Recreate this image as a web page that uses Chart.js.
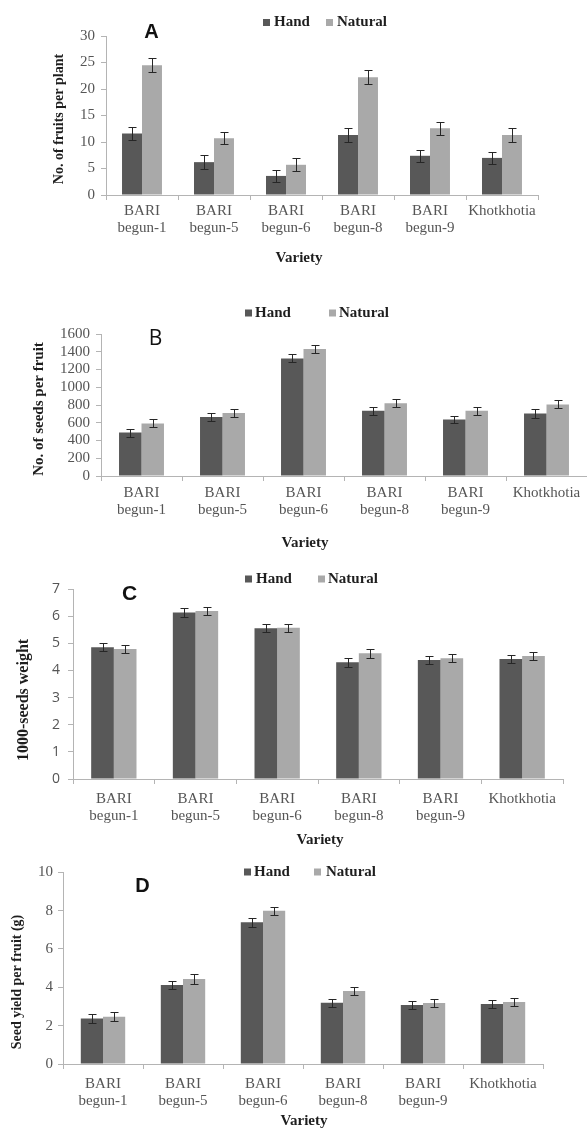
<!DOCTYPE html>
<html>
<head>
<meta charset="utf-8">
<script src="https://cdn.jsdelivr.net/npm/chart.js@4.4.1/dist/chart.umd.min.js"></script>
<style>
html,body{margin:0;padding:0;background:#fff;}
#wrap{position:relative;width:587px;height:1128px;overflow:hidden;background:#fff;}
canvas{position:absolute;left:0;}
</style>
</head>
<body>
<div id="wrap">
<canvas id="cA" width="587" height="280"></canvas>
<canvas id="cB" width="587" height="290"></canvas>
<canvas id="cC" width="587" height="285"></canvas>
<canvas id="cD" width="587" height="273"></canvas>
</div>
<script>
// ---------- DATA ----------
const categories = [['BARI','begun-1'],['BARI','begun-5'],['BARI','begun-6'],['BARI','begun-8'],['BARI','begun-9'],'Khotkhotia'];
const seriesNames = ['Hand', 'Natural'];
const xTitle = 'Variety';

// A: No. of fruits per plant
const fruitsHand       = [11.6, 6.2, 3.6, 11.3, 7.4, 7.0];
const fruitsHandErr    = [1.2, 1.3, 1.2, 1.3, 1.1, 1.1];
const fruitsNatural    = [24.5, 10.7, 5.7, 22.2, 12.6, 11.3];
const fruitsNaturalErr = [1.3, 1.1, 1.2, 1.3, 1.2, 1.3];
const fruitsTicks      = [0, 5, 10, 15, 20, 25, 30];

// B: No. of seeds per fruit
const seedsHand        = [490, 666, 1325, 734, 637, 704];
const seedsHandErr     = [45, 45, 46, 45, 41, 46];
const seedsNatural     = [592, 711, 1431, 821, 734, 806];
const seedsNaturalErr  = [45, 42, 45, 45, 45, 45];
const seedsTicks       = [0, 200, 400, 600, 800, 1000, 1200, 1400, 1600];

// C: 1000-seeds weight
const weightHand       = [4.85, 6.13, 5.55, 4.30, 4.38, 4.42];
const weightHandErr    = [0.15, 0.16, 0.15, 0.17, 0.15, 0.15];
const weightNatural    = [4.79, 6.19, 5.57, 4.63, 4.45, 4.53];
const weightNaturalErr = [0.15, 0.15, 0.15, 0.16, 0.14, 0.16];
const weightTicks      = [0, 1, 2, 3, 4, 5, 6, 7];

// D: Seed yield per fruit (g)
const yieldHand        = [2.38, 4.12, 7.39, 3.20, 3.08, 3.13];
const yieldHandErr     = [0.22, 0.22, 0.23, 0.21, 0.22, 0.23];
const yieldNatural     = [2.47, 4.43, 8.00, 3.81, 3.18, 3.23];
const yieldNaturalErr  = [0.22, 0.24, 0.21, 0.22, 0.21, 0.21];
const yieldTicks       = [0, 2, 4, 6, 8, 10];

// ---------- STYLE ----------
const HAND_COLOR = '#585858';
const NAT_COLOR  = '#a9a9a9';
const AXIS_COLOR = '#b4b4b4';
const TICK_COLOR = '#555555';
const TITLE_COLOR = '#1e1e1e';
const ERR_COLOR = '#262626';
const SERIF = '"Liberation Serif", "Times New Roman", serif';
const SANS = '"Liberation Sans", Arial, sans-serif';

const decorPlugin = {
  id: 'decor',
  afterDatasetsDraw(chart, args, o) {
    const ctx = chart.ctx, ys = chart.scales.y;
    ctx.save();
    ctx.strokeStyle = ERR_COLOR;
    ctx.lineWidth = 1;
    chart.data.datasets.forEach((ds, i) => {
      chart.getDatasetMeta(i).data.forEach((bar, j) => {
        const v = ds.data[j], e = ds.errors[j];
        const x = Math.round(bar.x) + 0.5;
        const y1 = Math.round(ys.getPixelForValue(v + e)) + 0.5;
        const y2 = Math.round(ys.getPixelForValue(v - e)) + 0.5;
        ctx.beginPath();
        ctx.moveTo(x, y1); ctx.lineTo(x, y2);
        ctx.moveTo(x - 4, y1); ctx.lineTo(x + 4, y1);
        ctx.moveTo(x - 4, y2); ctx.lineTo(x + 4, y2);
        ctx.stroke();
      });
    });
    ctx.restore();
  },
  afterDraw(chart, args, o) {
    const ctx = chart.ctx;
    const t = o.top;
    ctx.save();
    ctx.textBaseline = 'middle';
    // legend
    ctx.textAlign = 'left';
    ctx.font = 'bold 15px ' + SERIF;
    o.legend.forEach((item, i) => {
      const ds = chart.data.datasets[i];
      ctx.fillStyle = ds.backgroundColor;
      ctx.fillRect(item.sx, o.legendY - t - 3.5, 7, 7);
      ctx.fillStyle = TITLE_COLOR;
      ctx.fillText(ds.label, item.tx, o.legendY - t);
    });
    // panel letter
    ctx.textAlign = 'center';
    ctx.fillStyle = '#111';
    ctx.font = o.letterFont;
    ctx.fillText(o.letter, o.letterX, o.letterY - t);
    // x title
    ctx.fillStyle = TITLE_COLOR;
    ctx.font = 'bold 15px ' + SERIF;
    ctx.fillText(xTitle, o.xTitleX, o.xTitleY - t);
    // y title
    ctx.translate(o.yTitleX, o.yTitleY - t);
    ctx.rotate(-Math.PI / 2);
    ctx.font = o.yTitleFont;
    ctx.fillText(o.yTitle, 0, 0);
    ctx.restore();
  }
};

function makePanel(p) {
  const canvas = document.getElementById(p.id);
  canvas.style.top = p.top + 'px';
  const H = canvas.height, W = canvas.width;
  const ticks = p.ticks;
  new Chart(canvas, {
    type: 'bar',
    data: {
      labels: categories,
      datasets: [
        { label: seriesNames[0], data: p.hand, errors: p.handErr, backgroundColor: HAND_COLOR },
        { label: seriesNames[1], data: p.nat, errors: p.natErr, backgroundColor: NAT_COLOR }
      ]
    },
    options: {
      responsive: false,
      animation: false,
      events: [],
      layout: { padding: { left: 0, right: W - p.plot.right, top: p.plot.top - p.top, bottom: 0 } },
      datasets: { bar: { categoryPercentage: 0.555, barPercentage: 1.0, borderWidth: 0 } },
      plugins: {
        legend: { display: false },
        tooltip: { enabled: false },
        decor: Object.assign({ top: p.top }, p.decor)
      },
      scales: {
        x: {
          offset: true,
          grid: { display: true, drawOnChartArea: false, drawTicks: true, tickLength: 5, color: AXIS_COLOR, offset: true },
          border: { display: true, color: AXIS_COLOR },
          ticks: { autoSkip: false, maxRotation: 0, minRotation: 0, color: TICK_COLOR, padding: p.xPad,
                   font: { family: SERIF, size: 15, lineHeight: p.xLine } },
          afterFit: s => { s.height = H - (p.plot.bottom - p.top); }
        },
        y: {
          min: ticks[0], max: ticks[ticks.length - 1],
          afterBuildTicks: s => { s.ticks = ticks.map(v => ({ value: v })); },
          grid: { display: true, drawOnChartArea: false, drawTicks: true, tickLength: 5, color: AXIS_COLOR },
          border: { display: true, color: AXIS_COLOR },
          ticks: { autoSkip: false, color: TICK_COLOR, padding: p.yPad, font: p.yFont,
                   callback: v => String(v) },
          afterFit: s => { s.width = p.plot.left; }
        }
      }
    },
    plugins: [decorPlugin]
  });
}

makePanel({
  id: 'cA', top: 0,
  plot: { left: 106, right: 538, top: 36, bottom: 195 },
  hand: fruitsHand, handErr: fruitsHandErr, nat: fruitsNatural, natErr: fruitsNaturalErr, ticks: fruitsTicks,
  xPad: 3, xLine: 1.13, yPad: 6, yFont: { family: SERIF, size: 15 },
  decor: { legendY: 22.5, legend: [{ sx: 263, tx: 274 }, { sx: 326, tx: 337 }],
           letter: 'A', letterFont: 'bold 20px ' + SANS, letterX: 151.5, letterY: 32,
           xTitleX: 299, xTitleY: 258,
           yTitle: 'No. of fruits per plant', yTitleFont: 'bold 14px ' + SERIF, yTitleX: 59, yTitleY: 119 }
});

makePanel({
  id: 'cB', top: 280,
  plot: { left: 101, right: 587, top: 334, bottom: 476 },
  hand: seedsHand, handErr: seedsHandErr, nat: seedsNatural, natErr: seedsNaturalErr, ticks: seedsTicks,
  xPad: 4, xLine: 1.13, yPad: 6, yFont: { family: SERIF, size: 15 },
  decor: { legendY: 313, legend: [{ sx: 245, tx: 255 }, { sx: 329, tx: 339 }],
           letter: 'B', letterFont: '21px "Open Sans", ' + SANS, letterX: 155.5, letterY: 339.5,
           xTitleX: 305, xTitleY: 543,
           yTitle: 'No. of seeds per fruit', yTitleFont: 'bold 15px ' + SERIF, yTitleX: 39, yTitleY: 409 }
});

makePanel({
  id: 'cC', top: 570,
  plot: { left: 73, right: 563, top: 589, bottom: 779 },
  hand: weightHand, handErr: weightHandErr, nat: weightNatural, natErr: weightNaturalErr, ticks: weightTicks,
  xPad: 6, xLine: 1.18, yPad: 8, yFont: { family: '"Open Sans", sans-serif', size: 14 },
  decor: { legendY: 579, legend: [{ sx: 245, tx: 256 }, { sx: 318, tx: 328 }],
           letter: 'C', letterFont: 'bold 21px ' + SANS, letterX: 129.5, letterY: 594.5,
           xTitleX: 320, xTitleY: 840,
           yTitle: '1000-seeds weight', yTitleFont: 'bold 16px ' + SERIF, yTitleX: 24, yTitleY: 700 }
});

makePanel({
  id: 'cD', top: 855,
  plot: { left: 63, right: 543, top: 872.3, bottom: 1064 },
  hand: yieldHand, handErr: yieldHandErr, nat: yieldNatural, natErr: yieldNaturalErr, ticks: yieldTicks,
  xPad: 6, xLine: 1.18, yPad: 5, yFont: { family: SERIF, size: 15 },
  decor: { legendY: 872, legend: [{ sx: 244, tx: 254 }, { sx: 314, tx: 326 }],
           letter: 'D', letterFont: 'bold 20px ' + SANS, letterX: 142.5, letterY: 886,
           xTitleX: 304, xTitleY: 1121,
           yTitle: 'Seed yield per fruit (g)', yTitleFont: 'bold 14px ' + SERIF, yTitleX: 17, yTitleY: 982 }
});
</script>
</body>
</html>
